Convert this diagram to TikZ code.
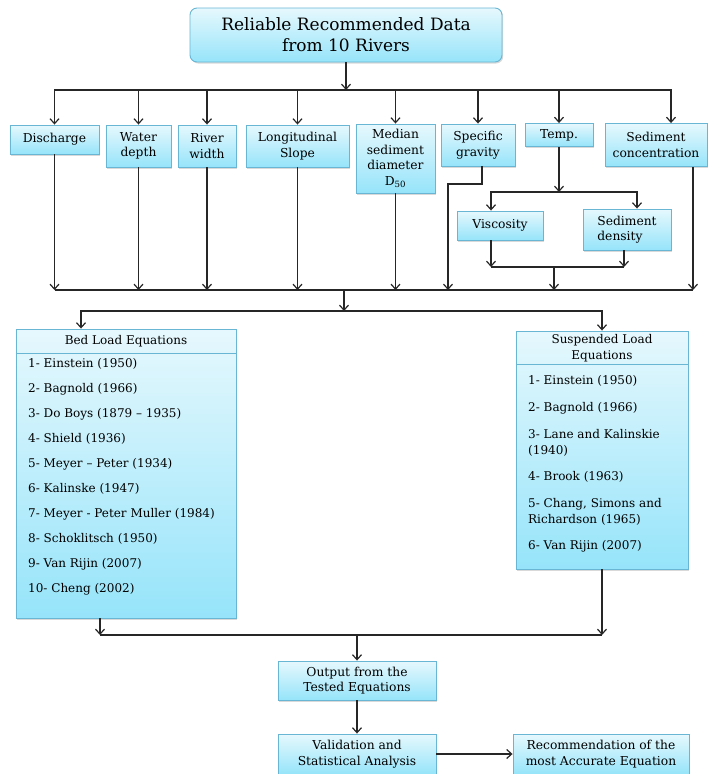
\documentclass[tikz,border=0pt]{standalone}
\usepackage{fontspec}
\setmainfont{DejaVu Serif}
\usetikzlibrary{arrows.meta,shadows}
\definecolor{boxline}{RGB}{105,182,212}
\definecolor{boxtop}{RGB}{230,248,253}
\definecolor{boxbot}{RGB}{150,228,250}
\tikzset{>={Straight Barb[length=5pt,width=9pt]}}
\tikzset{
  box/.style={draw=boxline,line width=0.9pt,top color=boxtop,bottom color=boxbot,
    drop shadow={shadow xshift=1.2pt,shadow yshift=-1.5pt,opacity=0.3},
    align=center,inner sep=0pt,font=\fontsize{12.3}{15.5}\selectfont},
  sz/.style 2 args={minimum width=#1pt,minimum height=#2pt},
  item/.style={anchor=base west,inner sep=0pt,font=\fontsize{12}{15.5}\selectfont},
  link/.style={line width=1.2pt,draw=black!85},
}

\begin{document}
\begin{tikzpicture}[x=1pt,y=-1pt]
  \useasboundingbox (0,0) rectangle (708,774);
  % source
  \node[box,rounded corners=7pt,sz={312}{54},font=\fontsize{17}{21}\selectfont] (data) at (346,35) {Reliable Recommended Data\\from 10 Rivers};
  % parameters
  \node[box,sz={89}{29}] (disc) at (54.5,139.5) {Discharge};
  \node[box,sz={65}{42}] (wdepth) at (138.5,146) {Water\\depth};
  \node[box,sz={58}{42}] (rwidth) at (207,146) {River\\width};
  \node[box,sz={103}{42}] (slope) at (297.5,146) {Longitudinal\\Slope};
  \node[box,sz={79}{69}] (dfifty) at (395.5,158.5) {Median\\sediment\\diameter\\D\textsubscript{50}};
  \node[box,sz={74}{42}] (sg) at (478,145) {Specific\\gravity};
  \node[box,sz={68}{23}] (temp) at (559,135) {Temp.};
  \node[box,sz={102}{43}] (sconc) at (656,145) {Sediment\\concentration};
  \node[box,sz={86}{29}] (visc) at (500,225.5) {Viscosity};
  \node[box,sz={88}{41},align=left] (sdens) at (627,229.5) {Sediment\\density};
  % equations
  \node[box,sz={220}{289}] (bed) at (126,473.5) {};
  \node[font=\fontsize{12}{15.5}\selectfont] (bedHead) at (126,341) {Bed Load Equations};
  \draw[boxline,line width=0.9pt] (bed.west |- 0,353) -- (bed.east |- 0,353);
  \foreach \t [count=\i] in {Einstein (1950),Bagnold (1966),Do Boys (1879 – 1935),Shield (1936),
      Meyer – Peter (1934),Kalinske (1947),Meyer - Peter Muller (1984),Schoklitsch (1950),
      Van Rijin (2007),Cheng (2002)}
    \node[item] (bed\i) at (28,{342+25*\i}) {\i- \t};
  \node[box,sz={172}{238}] (susp) at (602,450) {};
  \node[align=center,font=\fontsize{12}{15.5}\selectfont] (suspHead) at (602,348) {Suspended Load\\Equations};
  \draw[boxline,line width=0.9pt] (susp.west |- 0,364) -- (susp.east |- 0,364);
  \foreach \y/\t [count=\i] in {384/1- Einstein (1950),411/2- Bagnold (1966),438/3- Lane and Kalinskie,
      454/(1940),480/4- Brook (1963),507/{5- Chang, Simons and},523/Richardson (1965),549/6- Van Rijin (2007)}
    \node[item] (susp\i) at (528,\y) {\t};
  % results
  \node[box,sz={158}{39}] (out) at (357,680.5) {Output from the\\Tested Equations};
  \node[box,sz={158}{40}] (valid) at (357,754) {Validation and\\Statistical Analysis};
  \node[box,sz={176}{40}] (recom) at (601,754) {Recommendation of the\\most Accurate Equation};

  % junctions
  \coordinate (busA) at (346,90);
  \coordinate (busB) at (344,290);
  \coordinate (busC) at (344,311);
  \coordinate (busD) at (357,635);
  \coordinate (sgBend) at (448,184);
  \coordinate (tempJ) at (559,192);
  \coordinate (vdJ) at (554,267);

  \draw[link,->] (data) -- (busA);
  \foreach \n in {disc,wdepth,rwidth,slope,dfifty,sg,temp}
    \draw[link,->] (busA) -| (\n);
  \draw[link,->] (busA) -| ([xshift=15pt]sconc.north);

  \foreach \n in {disc,wdepth,rwidth,slope,dfifty}
    \draw[link,->] (\n) -- (\n.south |- busB);
  \draw[link,->] ([xshift=4pt]sg.south) |- (sgBend) -- (sgBend |- busB);
  \draw[link,->] (temp) -- (tempJ);
  \draw[link,->] (tempJ) -| ([xshift=-9pt]visc.north);
  \draw[link,->] (tempJ) -| ([xshift=10pt]sdens.north);
  \draw[link,->] ([xshift=-9pt]visc.south) -- ([xshift=-9pt]visc.south |- vdJ);
  \draw[link,->] ([xshift=-3pt]sdens.south) -- ([xshift=-3pt]sdens.south |- vdJ);
  \draw[link] ([xshift=-9pt]visc.south |- vdJ) -- ([xshift=-3pt]sdens.south |- vdJ);
  \draw[link,->] (vdJ) -- (vdJ |- busB);
  \draw[link,->] ([xshift=37pt]sconc.south) -- ([xshift=37pt]sconc.south |- busB);
  \draw[link] (disc.south |- busB) -- ([xshift=37pt]sconc.south |- busB);

  \draw[link,->] (busB) -- (busC);
  \draw[link,->] (busC) -| ([xshift=-45pt]bed.north);
  \draw[link,->] (busC) -| (susp);

  \draw[link,->] ([xshift=-26pt]bed.south) -- ([xshift=-26pt]bed.south |- busD);
  \draw[link,->] (susp) -- (susp.south |- busD);
  \draw[link] ([xshift=-26pt]bed.south |- busD) -- (susp.south |- busD);
  \draw[link,->] (busD) -- (out);
  \draw[link,->] (out) -- (valid);
  \draw[link,->] (valid) -- (recom);
\end{tikzpicture}
\end{document}
